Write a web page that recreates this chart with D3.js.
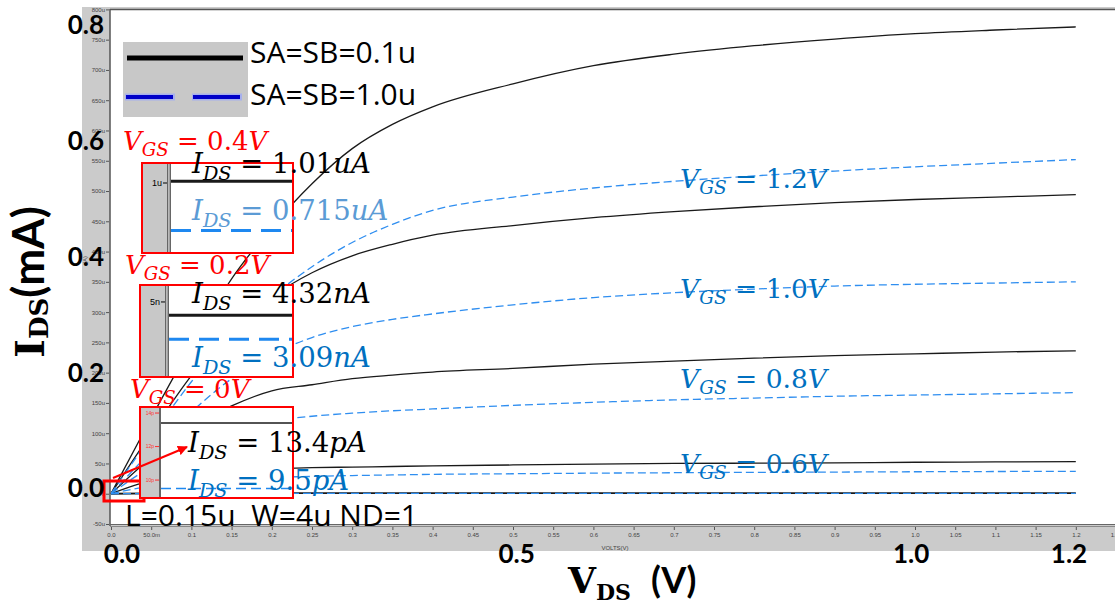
<!DOCTYPE html>
<html>
<head>
<meta charset="utf-8">
<script src="https://cdn.jsdelivr.net/npm/d3@7"></script>
<style>
  body { margin: 0; background: #fff; }
  svg { display: block; }
</style>
</head>
<body>
<div id="chart"></div>
<script>
// VDS sample points (V)
var vds = [0, 0.05, 0.1, 0.15, 0.2, 0.25, 0.3, 0.35, 0.4, 0.5, 0.6, 0.7, 0.8, 0.9, 1.0, 1.1, 1.2];

// IDS in uA, SA=SB=0.1u (black solid)
var blk12 = [0, 125, 245, 355, 440, 512, 570, 610, 639, 677, 707, 726, 740, 751, 760, 766, 771];
var blk10 = [0, 100, 195, 270, 325, 365, 393, 412, 427, 443, 456, 466, 474, 481, 486, 490, 494];
var blk08 = [0, 60, 110, 145, 170, 180, 190, 196, 201, 207, 214, 219, 224, 228, 231, 234, 236];
var blk06 = [0, 22, 33, 38, 41, 43, 44, 45, 46, 47.5, 49, 50, 50.5, 51, 52, 52.5, 53];
var blk04 = [0, 0.6, 0.8, 0.9, 0.95, 0.97, 0.98, 0.99, 1.0, 1.0, 1.0, 1.0, 1.01, 1.01, 1.01, 1.01, 1.01];

// IDS in uA, SA=SB=1.0u (blue dashed)
var blu12 = [0, 95, 185, 265, 325, 375, 415, 445, 468, 490, 505, 516, 525, 533, 540, 546, 552];
var blu10 = [0, 70, 135, 190, 230, 258, 276, 288, 297, 312, 324, 332, 338, 343, 346, 348, 350];
var blu08 = [0, 45, 80, 105, 120, 128, 133, 137, 140, 146, 151, 155, 158, 161, 163, 165, 167];
var blu06 = [0, 13, 20, 24, 27, 28.5, 30, 31, 32, 33, 34, 34.7, 35.3, 35.8, 36.3, 36.7, 37];
var blu04 = [0, 0.4, 0.55, 0.62, 0.66, 0.68, 0.69, 0.7, 0.7, 0.71, 0.71, 0.71, 0.715, 0.715, 0.715, 0.715, 0.715];

var vgsCurveLabels = ["1.2V", "1.0V", "0.8V", "0.6V"];

// simulator axis ticks
var xTicks = [0, 0.05, 0.1, 0.15, 0.2, 0.25, 0.3, 0.35, 0.4, 0.45, 0.5, 0.55, 0.6, 0.65, 0.7, 0.75, 0.8, 0.85, 0.9, 0.95, 1.0, 1.05, 1.1, 1.15, 1.2, 1.25];
var xTickLabels = ["0.0", "50.0m", "0.1", "0.15", "0.2", "0.25", "0.3", "0.35", "0.4", "0.45", "0.5", "0.55", "0.6", "0.65", "0.7", "0.75", "0.8", "0.85", "0.9", "0.95", "1.0", "1.05", "1.1", "1.15", "1.2", "1.25"];
var yTicks = [-50, 0, 50, 100, 150, 200, 250, 300, 350, 400, 450, 500, 550, 600, 650, 700, 750, 800];
var yTickLabels = ["-50u", "0", "50u", "100u", "150u", "200u", "250u", "300u", "350u", "400u", "450u", "500u", "550u", "600u", "650u", "700u", "750u", "800u"];

// overlay (slide) tick labels
var bigX = [0, 0.5, 1.0, 1.2];
var bigXLabels = ["0.0", "0.5", "1.0", "1.2"];
var bigY = [0, 0.2, 0.4, 0.6, 0.8];
var bigYLabels = ["0.0", "0.2", "0.4", "0.6", "0.8"];

// zoomed insets for the sub-threshold curves
var insetVgs = ["0.4V", "0.2V", "0V"];
var insetBlack = [1.01, 4.32, 13.4];
var insetBlue = [0.715, 3.09, 9.5];
var insetUnit = ["uA", "nA", "pA"];
var insetDomain = [[0.58, 1.12], [1.15, 5.87], [8.93, 14.36]];
var insetTicks = [[1], [5], [14, 12, 10]];
var insetTickLabels = [["1u"], ["5n"], ["14p", "12p", "10p"]];

var W = 1115, H = 612;
var svg = d3.select("#chart").append("svg")
    .attr("width", W)
    .attr("height", H);

var x = d3.scaleLinear().domain([0, 1.25]).range([111, 1116]);
var y = d3.scaleLinear().domain([-50, 800]).range([524, 9.4]);

// simulator frame
svg.append("rect").attr("x", 82).attr("y", 7).attr("width", W - 82).attr("height", 544).attr("fill", "#cbcbcb");
svg.append("rect").attr("x", 110).attr("y", 9).attr("width", W - 110).attr("height", 516).attr("fill", "#fff");

svg.append("clipPath").attr("id", "plotclip")
  .append("rect").attr("x", 110).attr("y", 9).attr("width", W - 110).attr("height", 516);

var line = d3.line()
    .x(function(d) { return x(d[0]); })
    .y(function(d) { return y(d[1]); })
    .curve(d3.curveMonotoneX);

var series = [
  {v: blk12, c: "#1a1a1a", dash: null, w: 1.3},
  {v: blk10, c: "#1a1a1a", dash: null, w: 1.3},
  {v: blk08, c: "#1a1a1a", dash: null, w: 1.3},
  {v: blk06, c: "#1a1a1a", dash: null, w: 1.3},
  {v: blk04, c: "#1a1a1a", dash: null, w: 1.8},
  {v: blu12, c: "#2f8ef0", dash: "8,4", w: 1.3},
  {v: blu10, c: "#2f8ef0", dash: "8,4", w: 1.3},
  {v: blu08, c: "#2f8ef0", dash: "8,4", w: 1.3},
  {v: blu06, c: "#2f8ef0", dash: "8,4", w: 1.3},
  {v: blu04, c: "#2f8ef0", dash: "8,4", w: 1.3}
];

var curves = svg.append("g").attr("clip-path", "url(#plotclip)");
curves.selectAll("path.curve")
  .data(series)
  .enter().append("path")
    .attr("class", "curve")
    .attr("d", function(s) { return line(vds.map(function(v, i) { return [v, s.v[i]]; })); })
    .attr("fill", "none")
    .attr("stroke", function(s) { return s.c; })
    .attr("stroke-width", function(s) { return s.w; })
    .attr("stroke-dasharray", function(s) { return s.dash; });

// plot borders
svg.append("line").attr("x1", 110).attr("x2", W).attr("y1", 9.5).attr("y2", 9.5).attr("stroke", "#555").attr("stroke-width", 1.5);
svg.append("line").attr("x1", 110).attr("x2", 110).attr("y1", 9).attr("y2", 526).attr("stroke", "#555").attr("stroke-width", 1.5);
svg.append("line").attr("x1", 110).attr("x2", W).attr("y1", 524.5).attr("y2", 524.5).attr("stroke", "#666").attr("stroke-width", 1);
svg.append("line").attr("x1", 110).attr("x2", W).attr("y1", 526.5).attr("y2", 526.5).attr("stroke", "#888").attr("stroke-width", 1);

// simulator axes
var xAxis = d3.axisBottom(x)
    .tickValues(xTicks)
    .tickSize(3)
    .tickFormat(function(d, i) { return xTickLabels[i]; });
var gx = svg.append("g").attr("transform", "translate(0,527)").call(xAxis);
gx.select(".domain").remove();
gx.selectAll("line").attr("stroke", "#555");
gx.selectAll("text").attr("y", 6).style("font-family", "Liberation Sans, Arial, sans-serif").style("font-size", "6px").attr("fill", "#444");

var yAxis = d3.axisLeft(y)
    .tickValues(yTicks)
    .tickSize(3)
    .tickFormat(function(d, i) { return yTickLabels[i]; });
var gy = svg.append("g").attr("transform", "translate(109,0)").call(yAxis);
gy.select(".domain").remove();
gy.selectAll("line").attr("stroke", "#555");
gy.selectAll("text").attr("x", -4).style("font-family", "Liberation Sans, Arial, sans-serif").style("font-size", "6px").attr("fill", "#444");

svg.append("text").attr("x", 615).attr("y", 550).attr("text-anchor", "middle")
  .style("font-family", "Liberation Sans, Arial, sans-serif").style("font-size", "6px").attr("fill", "#444")
  .text("VOLTS(V)");
svg.append("text").attr("transform", "translate(87,260) rotate(-90)").attr("text-anchor", "middle")
  .style("font-family", "Liberation Sans, Arial, sans-serif").style("font-size", "6px").attr("fill", "#444")
  .text("(A)");

// legend
svg.append("rect").attr("x", 123).attr("y", 42).attr("width", 125).attr("height", 75).attr("fill", "#c8c8c8");
svg.append("line").attr("x1", 127).attr("x2", 243).attr("y1", 58).attr("y2", 58).attr("stroke", "#000").attr("stroke-width", 5);
svg.append("line").attr("x1", 125).attr("x2", 243).attr("y1", 97).attr("y2", 97)
  .attr("stroke", "#9aa6ff").attr("stroke-width", 7).attr("stroke-dasharray", "50,17").attr("opacity", 0.7);
svg.append("line").attr("x1", 126).attr("x2", 243).attr("y1", 97).attr("y2", 97)
  .attr("stroke", "#0000c8").attr("stroke-width", 4).attr("stroke-dasharray", "47,20");
svg.append("text").attr("x", 250).attr("y", 63).style("font-family", "Open Sans, sans-serif").style("font-size", "30px").text("SA=SB=0.1u");
svg.append("text").attr("x", 250).attr("y", 105).style("font-family", "Open Sans, sans-serif").style("font-size", "30px").text("SA=SB=1.0u");

// insets
var boxes = [
  {x0: 142, x1: 293, y0: 163, y1: 253, band: 25, sep: 4, lw: 3, tickColor: "#000", tickSize: 9},
  {x0: 140, x1: 293, y0: 285, y1: 377, band: 25, sep: 4, lw: 3, tickColor: "#000", tickSize: 9},
  {x0: 140, x1: 293, y0: 407, y1: 498, band: 19, sep: 2, lw: 1.5, tickColor: "#ff3030", tickSize: 5}
];

// small red box at the origin (drawn under inset 3)
svg.append("rect").attr("x", 104).attr("y", 481).attr("width", 40).attr("height", 20)
  .attr("fill", "none").attr("stroke", "#ff0000").attr("stroke-width", 3);

boxes.forEach(function(b, k) {
  var g = svg.append("g");
  var iy = d3.scaleLinear().domain(insetDomain[k]).range([b.y1, b.y0]);
  var ix = d3.scaleLinear().domain([0, 1.2]).range([b.x0 + b.band + b.sep, b.x1]);
  var hline = d3.line().x(function(d) { return ix(d[0]); }).y(function(d) { return iy(d[1]); });

  g.append("rect").attr("x", b.x0).attr("y", b.y0).attr("width", b.x1 - b.x0).attr("height", b.y1 - b.y0).attr("fill", "#fff");
  g.append("rect").attr("x", b.x0).attr("y", b.y0).attr("width", b.band).attr("height", b.y1 - b.y0).attr("fill", "#c8c8c8");
  g.append("rect").attr("x", b.x0 + b.band).attr("y", b.y0).attr("width", b.sep).attr("height", b.y1 - b.y0).attr("fill", "#666");
  if (b.sep > 2) {
    g.append("rect").attr("x", b.x0 + b.band + 1.3).attr("y", b.y0).attr("width", 1.2).attr("height", b.y1 - b.y0).attr("fill", "#ddd");
  }

  insetTicks[k].forEach(function(t, j) {
    g.append("line").attr("x1", b.x0 + b.band - 4).attr("x2", b.x0 + b.band).attr("y1", iy(t)).attr("y2", iy(t))
      .attr("stroke", b.tickColor).attr("stroke-width", 1);
    g.append("text").attr("x", b.x0 + b.band - 5).attr("y", iy(t)).attr("dy", "0.35em").attr("text-anchor", "end")
      .style("font-family", "Liberation Sans, Arial, sans-serif").style("font-size", b.tickSize + "px")
      .attr("fill", b.tickColor).text(insetTickLabels[k][j]);
  });

  g.append("path").attr("d", hline([[0, insetBlack[k]], [1.2, insetBlack[k]]]))
    .attr("stroke", "#1a1a1a").attr("stroke-width", b.lw).attr("fill", "none");
  g.append("path").attr("d", hline([[0, insetBlue[k]], [1.2, insetBlue[k]]]))
    .attr("stroke", "#1e88f0").attr("stroke-width", b.lw).attr("fill", "none")
    .attr("stroke-dasharray", k === 2 ? "10,5" : "20,10");

  g.append("rect").attr("x", b.x0).attr("y", b.y0).attr("width", b.x1 - b.x0).attr("height", b.y1 - b.y0)
    .attr("fill", "none").attr("stroke", "#ff0000").attr("stroke-width", 2);
});

// arrow from the origin box to the pA inset
svg.append("defs").append("marker")
    .attr("id", "arrowhead")
    .attr("viewBox", "0 0 10 10")
    .attr("refX", 9).attr("refY", 5)
    .attr("markerWidth", 5).attr("markerHeight", 5)
    .attr("orient", "auto")
  .append("path").attr("d", "M0,0 L10,5 L0,10 z").attr("fill", "#ff0000");
svg.append("line").attr("x1", 113).attr("y1", 478).attr("x2", 187).attr("y2", 447)
  .attr("stroke", "#ff0000").attr("stroke-width", 2).attr("marker-end", "url(#arrowhead)");

// math-style labels (Cambria Math look)
function mathLabel(xp, yp, color, sym, sub, num, unit, size) {
  var t = svg.append("text").attr("x", xp).attr("y", yp).attr("fill", color)
    .style("font-family", "DejaVu Serif, serif").style("font-size", size + "px");
  t.append("tspan").style("font-style", "italic").text(sym);
  t.append("tspan").style("font-style", "italic").style("font-size", (size * 0.7) + "px").attr("dy", size * 0.24).text(sub);
  t.append("tspan").attr("dy", -size * 0.24).text(" = " + num);
  t.append("tspan").style("font-style", "italic").text(unit);
}

var redX = [123, 125, 130], redY = [150, 274, 398];
var idsX = [192, 192, 188], blkY = [173, 303, 452], bluY = [220, 367, 490];
var bluColor = ["#5b9bd5", "#0070c0", "#0070c0"];
insetVgs.forEach(function(v, k) {
  var num = v.replace("V", "");
  mathLabel(redX[k], redY[k], "#ff0000", "V", "GS", num, "V", 26);
  mathLabel(idsX[k], blkY[k], "#000", "I", "DS", String(insetBlack[k]), insetUnit[k], 27.5);
  mathLabel(idsX[k], bluY[k], bluColor[k], "I", "DS", String(insetBlue[k]), insetUnit[k], 27.5);
});

var vgsLabelY = [188, 298, 388, 473];
vgsCurveLabels.forEach(function(v, k) {
  mathLabel(680, vgsLabelY[k], "#0070c0", "V", "GS", v.replace("V", ""), "V", 26.5);
});

svg.append("text").attr("x", 125).attr("y", 526)
  .style("font-family", "Open Sans, sans-serif").style("font-size", "30px").style("white-space", "pre")
  .text("L=0.15u  W=4u ND=1");

// slide-style axis numbers
var bx = d3.scaleLinear().domain([0, 1.2]).range([122, 1069]);
var by = d3.scaleLinear().domain([0, 0.8]).range([488, 25]);
svg.selectAll("text.bigx")
  .data(bigX)
  .enter().append("text")
    .attr("class", "bigx")
    .attr("x", function(d) { return bx(d); })
    .attr("y", 563)
    .attr("text-anchor", "middle")
    .style("font-family", "Lato, sans-serif").style("font-weight", "bold").style("font-size", "26px")
    .text(function(d, i) { return bigXLabels[i]; });
svg.selectAll("text.bigy")
  .data(bigY)
  .enter().append("text")
    .attr("class", "bigy")
    .attr("x", 104)
    .attr("y", function(d) { return by(d); })
    .attr("dy", "0.36em")
    .attr("text-anchor", "end")
    .style("font-family", "Lato, sans-serif").style("font-weight", "bold").style("font-size", "26px")
    .text(function(d, i) { return bigYLabels[i]; });

// axis titles
var xt = svg.append("text").attr("x", 568).attr("y", 593).style("font-weight", "bold");
xt.append("tspan").style("font-family", "DejaVu Serif, serif").style("font-size", "36px").text("V");
xt.append("tspan").style("font-family", "DejaVu Serif, serif").style("font-size", "22px").attr("dy", 7).text("DS");
xt.append("tspan").style("font-family", "Lato, sans-serif").style("font-size", "36px").attr("dy", -7).attr("dx", 20).text("(V)");

var yt = svg.append("text").attr("transform", "translate(44,282) rotate(-90)").attr("text-anchor", "middle").style("font-weight", "bold");
yt.append("tspan").style("font-family", "DejaVu Serif, serif").style("font-size", "40px").text("I");
yt.append("tspan").style("font-family", "DejaVu Serif, serif").style("font-size", "26px").attr("dy", 4).text("DS");
yt.append("tspan").style("font-family", "Lato, sans-serif").style("font-size", "44px").attr("dy", -4).text("(mA)");
</script>
</body>
</html>
